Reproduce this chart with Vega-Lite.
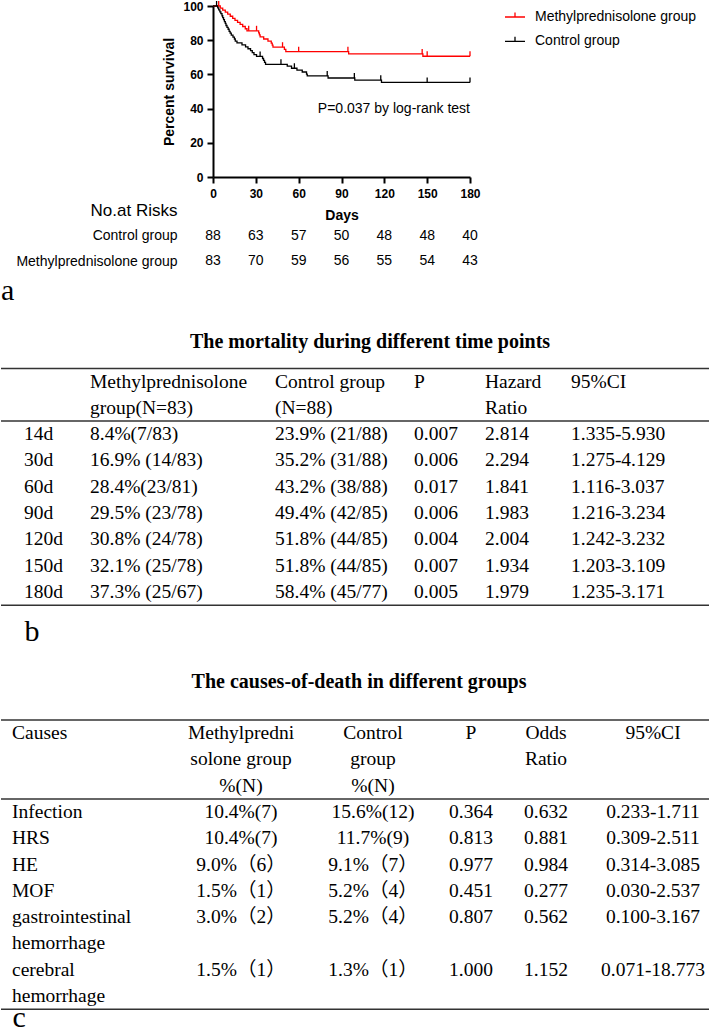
{
  "$schema": "https://vega.github.io/schema/vega-lite/v6.json",
  "padding": 0,
  "background": "white",
  "config": {
    "view": {"stroke": null},
    "font": "Liberation Sans",
    "axis": {"labelColor": "black", "titleColor": "black", "domainColor": "black", "tickColor": "black", "grid": false, "labelOverlap": false}
  },
  "datasets": {
    "km": [
      {"g": "Methylprednisolone group", "day": 0, "surv": 100},
      {"g": "Methylprednisolone group", "day": 5.1, "surv": 98.8},
      {"g": "Methylprednisolone group", "day": 6.8, "surv": 97.6},
      {"g": "Methylprednisolone group", "day": 8.6, "surv": 96.4},
      {"g": "Methylprednisolone group", "day": 10.3, "surv": 95.2},
      {"g": "Methylprednisolone group", "day": 12.1, "surv": 94.0},
      {"g": "Methylprednisolone group", "day": 13.8, "surv": 92.8},
      {"g": "Methylprednisolone group", "day": 15.4, "surv": 91.6},
      {"g": "Methylprednisolone group", "day": 17.2, "surv": 90.4},
      {"g": "Methylprednisolone group", "day": 19.0, "surv": 89.2},
      {"g": "Methylprednisolone group", "day": 20.8, "surv": 88.0},
      {"g": "Methylprednisolone group", "day": 22.6, "surv": 86.7},
      {"g": "Methylprednisolone group", "day": 23.8, "surv": 85.5},
      {"g": "Methylprednisolone group", "day": 32.0, "surv": 84.3},
      {"g": "Methylprednisolone group", "day": 32.5, "surv": 83.1},
      {"g": "Methylprednisolone group", "day": 33.0, "surv": 81.9},
      {"g": "Methylprednisolone group", "day": 35.5, "surv": 80.7},
      {"g": "Methylprednisolone group", "day": 38.5, "surv": 79.5},
      {"g": "Methylprednisolone group", "day": 40.8, "surv": 78.3},
      {"g": "Methylprednisolone group", "day": 41.5, "surv": 77.1},
      {"g": "Methylprednisolone group", "day": 42.0, "surv": 75.9},
      {"g": "Methylprednisolone group", "day": 50.0, "surv": 74.6},
      {"g": "Methylprednisolone group", "day": 51.0, "surv": 73.3},
      {"g": "Methylprednisolone group", "day": 95.0, "surv": 72.0},
      {"g": "Methylprednisolone group", "day": 147.0, "surv": 70.6},
      {"g": "Methylprednisolone group", "day": 180, "surv": 70.6},
      {"g": "Control group", "day": 0, "surv": 100},
      {"g": "Control group", "day": 3.3, "surv": 98.9},
      {"g": "Control group", "day": 4.0, "surv": 97.7},
      {"g": "Control group", "day": 4.8, "surv": 96.6},
      {"g": "Control group", "day": 5.5, "surv": 95.5},
      {"g": "Control group", "day": 6.3, "surv": 94.3},
      {"g": "Control group", "day": 6.8, "surv": 93.2},
      {"g": "Control group", "day": 7.4, "surv": 92.0},
      {"g": "Control group", "day": 8.0, "surv": 90.9},
      {"g": "Control group", "day": 8.6, "surv": 89.8},
      {"g": "Control group", "day": 9.1, "surv": 88.6},
      {"g": "Control group", "day": 9.8, "surv": 87.5},
      {"g": "Control group", "day": 10.6, "surv": 86.4},
      {"g": "Control group", "day": 11.3, "surv": 85.2},
      {"g": "Control group", "day": 12.0, "surv": 84.1},
      {"g": "Control group", "day": 12.8, "surv": 83.0},
      {"g": "Control group", "day": 14.0, "surv": 81.8},
      {"g": "Control group", "day": 15.0, "surv": 80.7},
      {"g": "Control group", "day": 15.6, "surv": 79.5},
      {"g": "Control group", "day": 16.8, "surv": 78.4},
      {"g": "Control group", "day": 20.3, "surv": 77.3},
      {"g": "Control group", "day": 22.8, "surv": 76.1},
      {"g": "Control group", "day": 24.5, "surv": 75.0},
      {"g": "Control group", "day": 26.3, "surv": 73.9},
      {"g": "Control group", "day": 27.5, "surv": 72.7},
      {"g": "Control group", "day": 28.7, "surv": 71.6},
      {"g": "Control group", "day": 30.5, "surv": 70.5},
      {"g": "Control group", "day": 34.7, "surv": 69.3},
      {"g": "Control group", "day": 35.4, "surv": 68.2},
      {"g": "Control group", "day": 36.1, "surv": 67.0},
      {"g": "Control group", "day": 36.8, "surv": 65.9},
      {"g": "Control group", "day": 52.0, "surv": 64.8},
      {"g": "Control group", "day": 55.0, "surv": 63.6},
      {"g": "Control group", "day": 58.8, "surv": 62.5},
      {"g": "Control group", "day": 62.5, "surv": 61.4},
      {"g": "Control group", "day": 65.5, "surv": 60.2},
      {"g": "Control group", "day": 66.0, "surv": 59.1},
      {"g": "Control group", "day": 80.6, "surv": 57.9},
      {"g": "Control group", "day": 99.3, "surv": 56.6},
      {"g": "Control group", "day": 118.0, "surv": 55.3},
      {"g": "Control group", "day": 180, "surv": 55.3}
    ],
    "cens": [
      {"g": "Methylprednisolone group", "day": 4, "surv": 100},
      {"g": "Methylprednisolone group", "day": 25, "surv": 85.5},
      {"g": "Methylprednisolone group", "day": 30.5, "surv": 85.5},
      {"g": "Methylprednisolone group", "day": 48.7, "surv": 75.9},
      {"g": "Methylprednisolone group", "day": 60, "surv": 73.3},
      {"g": "Methylprednisolone group", "day": 94.5, "surv": 73.3},
      {"g": "Methylprednisolone group", "day": 146.5, "surv": 72.0},
      {"g": "Methylprednisolone group", "day": 150, "surv": 70.6},
      {"g": "Methylprednisolone group", "day": 180, "surv": 70.6},
      {"g": "Control group", "day": 2.5, "surv": 100},
      {"g": "Control group", "day": 33, "surv": 70.5},
      {"g": "Control group", "day": 47.6, "surv": 65.9},
      {"g": "Control group", "day": 57, "surv": 63.6},
      {"g": "Control group", "day": 80, "surv": 59.1},
      {"g": "Control group", "day": 99, "surv": 57.9},
      {"g": "Control group", "day": 117.5, "surv": 56.6},
      {"g": "Control group", "day": 150, "surv": 55.3},
      {"g": "Control group", "day": 180, "surv": 55.3}
    ],
    "ptext": [{"label": "P=0.037 by log-rank test", "day": 180, "surv": 40}],
    "risk": [
      {"g": "Control group", "day": 0, "n": 88},
      {"g": "Control group", "day": 30, "n": 63},
      {"g": "Control group", "day": 60, "n": 57},
      {"g": "Control group", "day": 90, "n": 50},
      {"g": "Control group", "day": 120, "n": 48},
      {"g": "Control group", "day": 150, "n": 48},
      {"g": "Control group", "day": 180, "n": 40},
      {"g": "Methylprednisolone group", "day": 0, "n": 83},
      {"g": "Methylprednisolone group", "day": 30, "n": 70},
      {"g": "Methylprednisolone group", "day": 60, "n": 59},
      {"g": "Methylprednisolone group", "day": 90, "n": 56},
      {"g": "Methylprednisolone group", "day": 120, "n": 55},
      {"g": "Methylprednisolone group", "day": 150, "n": 54},
      {"g": "Methylprednisolone group", "day": 180, "n": 43}
    ],
    "tb": [
      {"r": 0, "c": 2, "t": "Methylprednisolone\ngroup(N=83)"},
      {"r": 0, "c": 3, "t": "Control group\n(N=88)"},
      {"r": 0, "c": 4, "t": "P"},
      {"r": 0, "c": 5, "t": "Hazard\nRatio"},
      {"r": 0, "c": 6, "t": "95%CI"},
      {"r": 2, "c": 1, "t": "14d"}, {"r": 2, "c": 2, "t": "8.4%(7/83)"}, {"r": 2, "c": 3, "t": "23.9% (21/88)"}, {"r": 2, "c": 4, "t": "0.007"}, {"r": 2, "c": 5, "t": "2.814"}, {"r": 2, "c": 6, "t": "1.335-5.930"},
      {"r": 3, "c": 1, "t": "30d"}, {"r": 3, "c": 2, "t": "16.9% (14/83)"}, {"r": 3, "c": 3, "t": "35.2% (31/88)"}, {"r": 3, "c": 4, "t": "0.006"}, {"r": 3, "c": 5, "t": "2.294"}, {"r": 3, "c": 6, "t": "1.275-4.129"},
      {"r": 4, "c": 1, "t": "60d"}, {"r": 4, "c": 2, "t": "28.4%(23/81)"}, {"r": 4, "c": 3, "t": "43.2% (38/88)"}, {"r": 4, "c": 4, "t": "0.017"}, {"r": 4, "c": 5, "t": "1.841"}, {"r": 4, "c": 6, "t": "1.116-3.037"},
      {"r": 5, "c": 1, "t": "90d"}, {"r": 5, "c": 2, "t": "29.5% (23/78)"}, {"r": 5, "c": 3, "t": "49.4% (42/85)"}, {"r": 5, "c": 4, "t": "0.006"}, {"r": 5, "c": 5, "t": "1.983"}, {"r": 5, "c": 6, "t": "1.216-3.234"},
      {"r": 6, "c": 1, "t": "120d"}, {"r": 6, "c": 2, "t": "30.8% (24/78)"}, {"r": 6, "c": 3, "t": "51.8% (44/85)"}, {"r": 6, "c": 4, "t": "0.004"}, {"r": 6, "c": 5, "t": "2.004"}, {"r": 6, "c": 6, "t": "1.242-3.232"},
      {"r": 7, "c": 1, "t": "150d"}, {"r": 7, "c": 2, "t": "32.1% (25/78)"}, {"r": 7, "c": 3, "t": "51.8% (44/85)"}, {"r": 7, "c": 4, "t": "0.007"}, {"r": 7, "c": 5, "t": "1.934"}, {"r": 7, "c": 6, "t": "1.203-3.109"},
      {"r": 8, "c": 1, "t": "180d"}, {"r": 8, "c": 2, "t": "37.3% (25/67)"}, {"r": 8, "c": 3, "t": "58.4% (45/77)"}, {"r": 8, "c": 4, "t": "0.005"}, {"r": 8, "c": 5, "t": "1.979"}, {"r": 8, "c": 6, "t": "1.235-3.171"}
    ],
    "tc": [
      {"r": 0, "c": 1, "t": "Causes"},
      {"r": 0, "c": 2, "t": "Methylpredni\nsolone group\n%(N)"},
      {"r": 0, "c": 3, "t": "Control\ngroup\n%(N)"},
      {"r": 0, "c": 4, "t": "P"},
      {"r": 0, "c": 5, "t": "Odds\nRatio"},
      {"r": 0, "c": 6, "t": "95%CI"},
      {"r": 3, "c": 1, "t": "Infection"}, {"r": 3, "c": 2, "t": "10.4%(7)"}, {"r": 3, "c": 3, "t": "15.6%(12)"}, {"r": 3, "c": 4, "t": "0.364"}, {"r": 3, "c": 5, "t": "0.632"}, {"r": 3, "c": 6, "t": "0.233-1.711"},
      {"r": 4, "c": 1, "t": "HRS"}, {"r": 4, "c": 2, "t": "10.4%(7)"}, {"r": 4, "c": 3, "t": "11.7%(9)"}, {"r": 4, "c": 4, "t": "0.813"}, {"r": 4, "c": 5, "t": "0.881"}, {"r": 4, "c": 6, "t": "0.309-2.511"},
      {"r": 5, "c": 1, "t": "HE"}, {"r": 5, "c": 2, "t": "9.0%（6）"}, {"r": 5, "c": 3, "t": "9.1%（7）"}, {"r": 5, "c": 4, "t": "0.977"}, {"r": 5, "c": 5, "t": "0.984"}, {"r": 5, "c": 6, "t": "0.314-3.085"},
      {"r": 6, "c": 1, "t": "MOF"}, {"r": 6, "c": 2, "t": "1.5%（1）"}, {"r": 6, "c": 3, "t": "5.2%（4）"}, {"r": 6, "c": 4, "t": "0.451"}, {"r": 6, "c": 5, "t": "0.277"}, {"r": 6, "c": 6, "t": "0.030-2.537"},
      {"r": 7, "c": 1, "t": "gastrointestinal\nhemorrhage"}, {"r": 7, "c": 2, "t": "3.0%（2）"}, {"r": 7, "c": 3, "t": "5.2%（4）"}, {"r": 7, "c": 4, "t": "0.807"}, {"r": 7, "c": 5, "t": "0.562"}, {"r": 7, "c": 6, "t": "0.100-3.167"},
      {"r": 9, "c": 1, "t": "cerebral\nhemorrhage"}, {"r": 9, "c": 2, "t": "1.5%（1）"}, {"r": 9, "c": 3, "t": "1.3%（1）"}, {"r": 9, "c": 4, "t": "1.000"}, {"r": 9, "c": 5, "t": "1.152"}, {"r": 9, "c": 6, "t": "0.071-18.773"}
    ]
  },
  "spacing": 25.5,
  "resolve": {"scale": {"color": "independent"}, "legend": {"color": "independent"}},
  "vconcat": [
    {
      "title": {"text": "a", "orient": "bottom", "anchor": "start", "offset": 1.5, "font": "Liberation Serif", "fontSize": 30, "fontWeight": "normal", "baseline": "top", "color": "black"},
      "spacing": 0,
      "resolve": {"scale": {"color": "independent"}, "legend": {"color": "independent"}},
      "hconcat": [
        {"width": 14, "height": 10, "data": {"values": []}, "mark": {"type": "text"}, "encoding": {}},
        {
          "bounds": "flush",
          "spacing": 20.6,
          "resolve": {"scale": {"color": "independent"}, "legend": {"color": "independent"}},
          "vconcat": [
            {
              "width": 257,
              "height": 171,
              "layer": [
                {
                  "data": {"name": "km"},
                  "mark": {"type": "line", "interpolate": "step-after", "strokeWidth": 1.3},
                  "encoding": {
                    "x": {"field": "day", "type": "quantitative", "scale": {"domain": [0, 180], "nice": false},
                      "axis": {"title": "Days", "values": [0, 30, 60, 90, 120, 150, 180], "labelOverlap": false, "labelFont": "Liberation Sans", "labelFontSize": 12, "labelFontWeight": "bold", "labelPadding": 5, "labelFlush": false, "tickSize": 6, "tickWidth": 2, "domainWidth": 2, "titleFont": "Liberation Sans", "titleFontSize": 14, "titleFontWeight": "bold", "titlePadding": 9}},
                    "y": {"field": "surv", "type": "quantitative", "scale": {"domain": [0, 100], "nice": false},
                      "axis": {"title": "Percent survival", "values": [0, 20, 40, 60, 80, 100], "labelOverlap": false, "labelFont": "Liberation Sans", "labelFontSize": 12, "labelFontWeight": "bold", "labelPadding": 4, "labelFlush": false, "tickSize": 6, "tickWidth": 2, "domainWidth": 2, "titleFont": "Liberation Sans", "titleFontSize": 14, "titleFontWeight": "bold", "titlePadding": 6}},
                    "color": {"field": "g", "type": "nominal",
                      "scale": {"domain": ["Methylprednisolone group", "Control group"], "range": ["#ff0000", "#000000"]},
                      "legend": {"title": null, "orient": "right", "offset": 31, "padding": 0, "labelFont": "Liberation Sans", "labelFontSize": 14, "labelColor": "black", "labelOffset": 9, "symbolType": "M-1,0H1M0,0V-0.45", "symbolSize": 400, "symbolStrokeWidth": 1.3, "rowPadding": 6.3, "labelLimit": 300}}
                  }
                },
                {
                  "data": {"name": "cens"},
                  "mark": {"type": "tick", "orient": "vertical", "thickness": 1.3, "size": 5, "yOffset": -2.5, "opacity": 1},
                  "encoding": {
                    "x": {"field": "day", "type": "quantitative",
                      "axis": {"title": "Days", "values": [0, 30, 60, 90, 120, 150, 180], "labelOverlap": false, "labelFont": "Liberation Sans", "labelFontSize": 12, "labelFontWeight": "bold", "labelPadding": 5, "labelFlush": false, "tickSize": 6, "tickWidth": 2, "domainWidth": 2, "titleFont": "Liberation Sans", "titleFontSize": 14, "titleFontWeight": "bold", "titlePadding": 9}},
                    "y": {"field": "surv", "type": "quantitative",
                      "axis": {"title": "Percent survival", "values": [0, 20, 40, 60, 80, 100], "labelOverlap": false, "labelFont": "Liberation Sans", "labelFontSize": 12, "labelFontWeight": "bold", "labelPadding": 4, "labelFlush": false, "tickSize": 6, "tickWidth": 2, "domainWidth": 2, "titleFont": "Liberation Sans", "titleFontSize": 14, "titleFontWeight": "bold", "titlePadding": 6}},
                    "color": {"field": "g", "type": "nominal", "legend": null}
                  }
                },
                {
                  "data": {"name": "ptext"},
                  "mark": {"type": "text", "align": "right", "baseline": "middle", "font": "Liberation Sans", "fontSize": 14, "color": "black"},
                  "encoding": {
                    "x": {"field": "day", "type": "quantitative",
                      "axis": {"title": "Days", "values": [0, 30, 60, 90, 120, 150, 180], "labelOverlap": false, "labelFont": "Liberation Sans", "labelFontSize": 12, "labelFontWeight": "bold", "labelPadding": 5, "labelFlush": false, "tickSize": 6, "tickWidth": 2, "domainWidth": 2, "titleFont": "Liberation Sans", "titleFontSize": 14, "titleFontWeight": "bold", "titlePadding": 9}},
                    "y": {"field": "surv", "type": "quantitative",
                      "axis": {"title": "Percent survival", "values": [0, 20, 40, 60, 80, 100], "labelOverlap": false, "labelFont": "Liberation Sans", "labelFontSize": 12, "labelFontWeight": "bold", "labelPadding": 4, "labelFlush": false, "tickSize": 6, "tickWidth": 2, "domainWidth": 2, "titleFont": "Liberation Sans", "titleFontSize": 14, "titleFontWeight": "bold", "titlePadding": 6}},
                    "text": {"field": "label"}
                  }
                }
              ]
            },
            {
              "width": 257,
              "height": 76.5,
              "data": {"name": "risk"},
              "mark": {"type": "text", "font": "Liberation Sans", "fontSize": 14, "baseline": "middle", "color": "black"},
              "encoding": {
                "x": {"field": "day", "type": "quantitative", "scale": {"domain": [0, 180], "nice": false}, "axis": null},
                "y": {"field": "g", "type": "nominal", "scale": {"domain": ["No.at Risks", "Control group", "Methylprednisolone group"]},
                  "axis": {"title": null, "domain": false, "ticks": false, "labelPadding": 36, "labelFont": "Liberation Sans", "labelFontSize": {"condition": {"test": "datum.value === 'No.at Risks'", "value": 17}, "value": 14}, "labelColor": "black", "labelLimit": 300}},
                "text": {"field": "n", "type": "quantitative"}
              }
            }
          ]
        }
      ]
    },
    {
      "width": 709,
      "height": 236.7,
      "title": {"text": "The mortality during different time points", "font": "Liberation Serif", "fontSize": 20, "fontWeight": "bold", "anchor": "middle", "frame": "group", "baseline": "bottom", "offset": -4, "dx": 14.5, "color": "black"},
      "layer": [
        {
          "data": {"name": "tb"},
          "mark": {"type": "text", "font": "Liberation Serif, Noto Sans CJK SC", "fontSize": 19.5, "align": "left", "baseline": "line-top", "lineBreak": "\n", "lineHeight": 26.3, "color": "black"},
          "encoding": {
            "x": {"field": "c", "type": "quantitative", "scale": {"domain": [1, 2, 3, 4, 5, 6], "range": [23, 89, 274, 413, 484, 570], "nice": false, "zero": false},
              "axis": {"title": "b", "orient": "bottom", "domain": false, "ticks": false, "labels": false, "grid": false, "titleAnchor": "start", "titleAlign": "left", "titleBaseline": "alphabetic", "titlePadding": 34.8, "titleFont": "Liberation Serif", "titleFontSize": 30, "titleFontWeight": "normal", "titleColor": "black"}},
            "y": {"field": "r", "type": "ordinal", "bandPosition": 0, "scale": {"type": "band", "domain": [0, 1, 2, 3, 4, 5, 6, 7, 8], "paddingInner": 0, "paddingOuter": 0}, "axis": null},
            "text": {"field": "t"}
          }
        },
        {
          "data": {"values": [{"r": 0}, {"r": 2}]},
          "mark": {"type": "rule", "color": "#333333", "strokeWidth": 1.5},
          "encoding": {"y": {"field": "r", "type": "ordinal", "bandPosition": 0, "scale": {"type": "band", "domain": [0, 1, 2, 3, 4, 5, 6, 7, 8], "paddingInner": 0, "paddingOuter": 0}, "axis": null}}
        },
        {
          "data": {"values": [{"r": 8}]},
          "mark": {"type": "rule", "color": "#333333", "strokeWidth": 1.5},
          "encoding": {"y": {"field": "r", "type": "ordinal", "bandPosition": 1, "scale": {"type": "band", "domain": [0, 1, 2, 3, 4, 5, 6, 7, 8], "paddingInner": 0, "paddingOuter": 0}, "axis": null}}
        }
      ]
    },
    {
      "width": 709,
      "height": 289.3,
      "title": {"text": "The causes-of-death in different groups", "font": "Liberation Serif", "fontSize": 20, "fontWeight": "bold", "anchor": "middle", "frame": "group", "baseline": "bottom", "offset": 6.85, "dx": 3.5, "color": "black"},
      "layer": [
        {
          "data": {"name": "tc"},
          "transform": [{"filter": "datum.c == 1"}],
          "mark": {"type": "text", "font": "Liberation Serif, Noto Sans CJK SC", "fontSize": 19.5, "align": "left", "baseline": "line-top", "lineBreak": "\n", "lineHeight": 26.3, "color": "black"},
          "encoding": {
            "x": {"field": "c", "type": "quantitative", "scale": {"domain": [1, 2, 3, 4, 5, 6], "range": [11, 240, 372, 470, 545, 652], "nice": false, "zero": false},
              "axis": {"title": "c", "orient": "bottom", "domain": false, "ticks": false, "labels": false, "grid": false, "titleAnchor": "start", "titleAlign": "left", "titleBaseline": "alphabetic", "titlePadding": 17, "titleFont": "Liberation Serif", "titleFontSize": 30, "titleFontWeight": "normal", "titleColor": "black"}},
            "y": {"field": "r", "type": "ordinal", "bandPosition": 0, "scale": {"type": "band", "domain": [0, 1, 2, 3, 4, 5, 6, 7, 8, 9, 10], "paddingInner": 0, "paddingOuter": 0}, "axis": null},
            "text": {"field": "t"}
          }
        },
        {
          "data": {"name": "tc"},
          "transform": [{"filter": "datum.c != 1"}],
          "mark": {"type": "text", "font": "Liberation Serif, Noto Sans CJK SC", "fontSize": 19.5, "align": "center", "baseline": "line-top", "lineBreak": "\n", "lineHeight": 26.3, "color": "black"},
          "encoding": {
            "x": {"field": "c", "type": "quantitative"},
            "y": {"field": "r", "type": "ordinal", "bandPosition": 0, "scale": {"type": "band", "domain": [0, 1, 2, 3, 4, 5, 6, 7, 8, 9, 10], "paddingInner": 0, "paddingOuter": 0}, "axis": null},
            "text": {"field": "t"}
          }
        },
        {
          "data": {"values": [{"r": 0}, {"r": 3}]},
          "mark": {"type": "rule", "color": "#333333", "strokeWidth": 1.5},
          "encoding": {"y": {"field": "r", "type": "ordinal", "bandPosition": 0, "scale": {"type": "band", "domain": [0, 1, 2, 3, 4, 5, 6, 7, 8, 9, 10], "paddingInner": 0, "paddingOuter": 0}, "axis": null}}
        },
        {
          "data": {"values": [{"r": 10}]},
          "mark": {"type": "rule", "color": "#333333", "strokeWidth": 1.5},
          "encoding": {"y": {"field": "r", "type": "ordinal", "bandPosition": 1, "scale": {"type": "band", "domain": [0, 1, 2, 3, 4, 5, 6, 7, 8, 9, 10], "paddingInner": 0, "paddingOuter": 0}, "axis": null}}
        }
      ]
    }
  ]
}
